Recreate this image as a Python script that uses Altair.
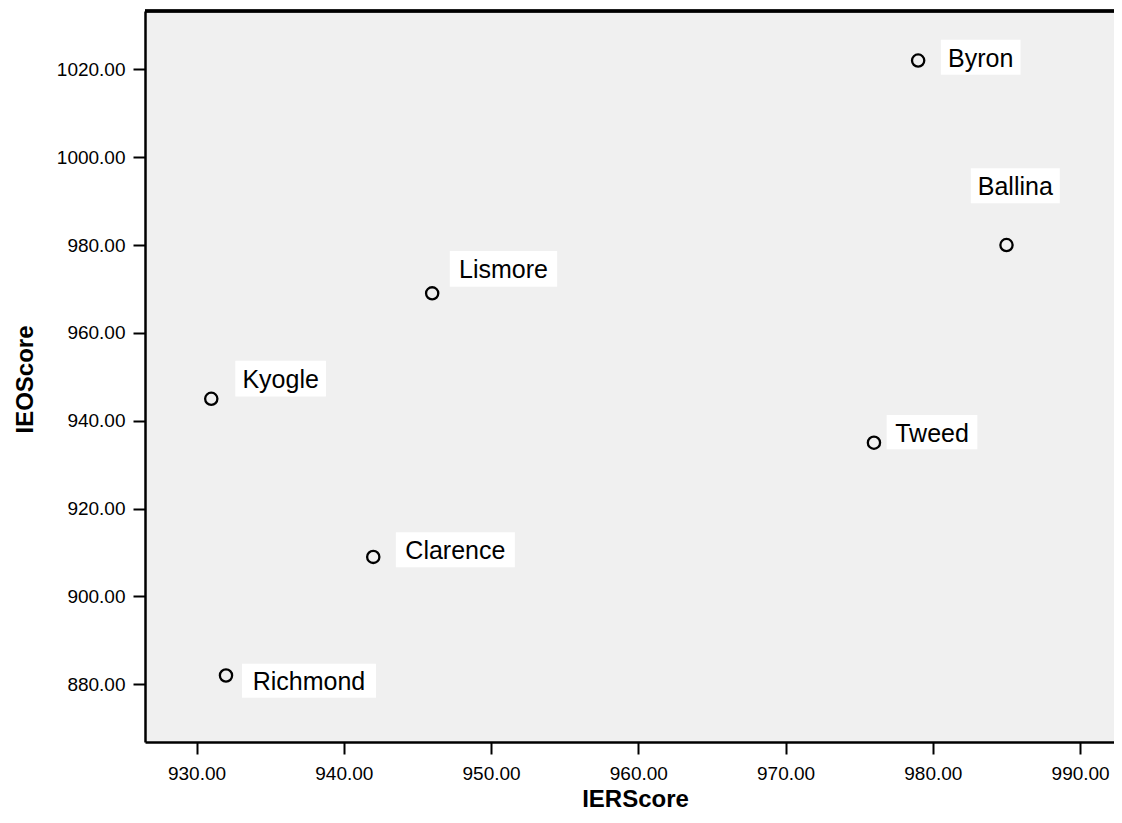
import altair as alt
import pandas as pd

# ---- data ----
names = ["Byron", "Ballina", "Lismore", "Kyogle", "Tweed", "Clarence", "Richmond"]
ier_score = [979, 985, 946, 931, 976, 942, 932]
ieo_score = [1022, 980, 969, 945, 935, 909, 882]
x_ticks = [930, 940, 950, 960, 970, 980, 990]
y_ticks = [880, 900, 920, 940, 960, 980, 1000, 1020]

df = pd.DataFrame({"name": names, "IERScore": ier_score, "IEOScore": ieo_score})

# ---- label placement (pixels relative to the point: left, right, top, bottom of white box) ----
label_box = {
    "Byron": (22.7, 102.4, -20.7, 14.3),
    "Ballina": (-35.7, 53.3, -76.7, -41.7),
    "Lismore": (17.6, 125.0, -42.3, -6.6),
    "Kyogle": (24.0, 114.7, -38.0, -2.3),
    "Tweed": (12.7, 103.4, -27.7, 6.6),
    "Clarence": (22.6, 141.6, -24.6, 10.4),
    "Richmond": (16.0, 150.0, -11.7, 22.3),
}

def box_path(l, r, t, b):
    s = 100.0
    return (f"M{l/s:.4f},{t/s:.4f}L{r/s:.4f},{t/s:.4f}"
            f"L{r/s:.4f},{b/s:.4f}L{l/s:.4f},{b/s:.4f}Z")

paths = [box_path(*label_box[n]) for n in names]

W, H = 969, 731
xs = alt.Scale(domain=[926.5, 992.3], nice=False, zero=False)
ys = alt.Scale(domain=[866.86, 1033.28], nice=False, zero=False)
FONT = "Liberation Sans"

x_enc = alt.X("IERScore:Q", scale=xs, title="IERScore",
              axis=alt.Axis(values=x_ticks, format=".2f", grid=False,
                            domainColor="black", domainWidth=2.5,
                            tickColor="black", tickWidth=2, tickSize=12,
                            labelFont=FONT, labelFontSize=19, labelColor="black",
                            labelPadding=10,
                            titleFont=FONT, titleFontSize=24, titleFontWeight="bold",
                            titleColor="black", titleX=490, titleY=64,
                            titleBaseline="alphabetic", titleAlign="center"))
y_enc = alt.Y("IEOScore:Q", scale=ys, title="IEOScore",
              axis=alt.Axis(values=y_ticks, format=".2f", grid=False,
                            domainColor="black", domainWidth=2.5,
                            tickColor="black", tickWidth=2, tickSize=12,
                            labelFont=FONT, labelFontSize=19, labelColor="black",
                            labelPadding=8,
                            titleFont=FONT, titleFontSize=24, titleFontWeight="bold",
                            titleColor="black", titleAngle=270, titleX=-113,
                            titleY=368, titleBaseline="alphabetic",
                            titleAlign="center"))

base = alt.Chart(df)

boxes = base.mark_point(filled=True, color="white", opacity=1, size=40000,
                        strokeWidth=0).encode(
    x=x_enc, y=y_enc,
    shape=alt.Shape("name:N", scale=alt.Scale(domain=names, range=paths), legend=None),
)

points = base.mark_point(shape="circle", filled=False, color="black",
                         strokeWidth=2.3, size=150, opacity=1).encode(x=x_enc, y=y_enc)

border_top = base.mark_rule(color="black", strokeWidth=2.5).encode(
    x=alt.value(0), x2=alt.value(W), y=alt.value(0))

text_layers = []
for n in names:
    l, r, t, b = label_box[n]
    text_layers.append(
        base.transform_filter(alt.datum.name == n).mark_text(
            font=FONT, fontSize=25, color="black", align="center",
            baseline="middle", dx=(l + r) / 2, dy=(t + b) / 2 + 1.45,
        ).encode(x=x_enc, y=y_enc, text="name:N")
    )

chart = alt.layer(boxes, points, border_top, *text_layers).properties(
    width=W, height=H,
    autosize=alt.AutoSizeParams(type="none"),
    padding={"left": 137, "top": 3, "right": 0, "bottom": 73},
    background="white",
).configure_view(fill="#F0F0F0", stroke=None)

chart.save("out.html", embed_options={"renderer": "svg", "actions": False})
